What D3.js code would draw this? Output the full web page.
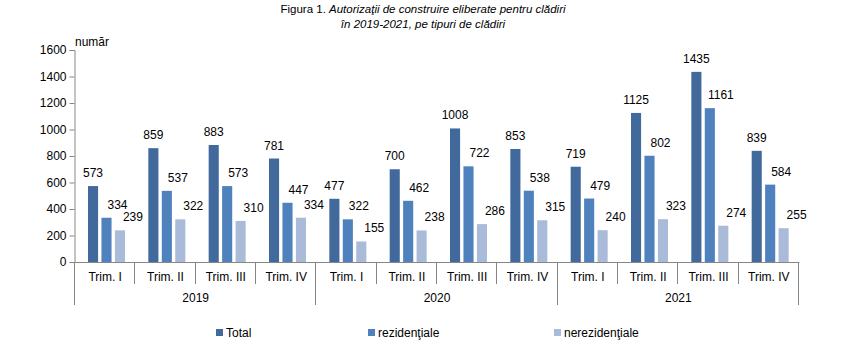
<!DOCTYPE html>
<html>
<head>
<meta charset="utf-8">
<script src="https://cdn.jsdelivr.net/npm/d3@7"></script>
<style>
  body { margin: 0; background: #fff; }
  svg text { font-family: "Liberation Sans", Arial, sans-serif; fill: #000; }
</style>
</head>
<body>
<svg id="chart" width="849" height="347"></svg>
<script>
const years = ['2019', '2020', '2021'];
const quarters = ['Trim. I', 'Trim. II', 'Trim. III', 'Trim. IV'];
const seriesNames = ['Total', 'rezidenţiale', 'nerezidenţiale'];
const total = [573, 859, 883, 781, 477, 700, 1008, 853, 719, 1125, 1435, 839];
const rezidentiale = [334, 537, 573, 447, 322, 462, 722, 538, 479, 802, 1161, 584];
const nerezidentiale = [239, 322, 310, 334, 155, 238, 286, 315, 240, 323, 274, 255];
const yTicks = [0, 200, 400, 600, 800, 1000, 1200, 1400, 1600];

const colors = ['#41699b', '#4f81bd', '#a9bbd8'];
const labelShift = [0, 11, 13];
const axisColor = '#868686';

const svg = d3.select('#chart');

// one slot per quarter of each year
const slots = [];
years.forEach(yr => quarters.forEach(q => slots.push({ year: yr, quarter: q })));
slots.forEach((s, i) => { s.values = [total[i], rezidentiale[i], nerezidentiale[i]]; });

const x0 = d3.scaleBand().domain(d3.range(slots.length)).range([75, 799]);
const x1 = d3.scaleBand().domain(d3.range(3)).range([13, 50]).paddingInner(0.25);
const y = d3.scaleLinear().domain([0, 1600]).range([262, 50]);

// title
const title = svg.append('text').attr('x', 423).attr('y', 13).attr('text-anchor', 'middle')
  .style('font-size', '11.5px');
title.append('tspan').text('Figura 1. ');
title.append('tspan').style('font-style', 'italic').text('Autorizaţii de construire eliberate pentru clădiri');
svg.append('text').attr('x', 423).attr('y', 28).attr('text-anchor', 'middle')
  .style('font-size', '11.5px').style('font-style', 'italic')
  .text('în 2019-2021, pe tipuri de clădiri');

svg.append('text').attr('x', 75).attr('y', 46).style('font-size', '12px').text('număr');

// y axis
const yAxis = svg.append('g').attr('transform', 'translate(74.5,0)')
  .call(d3.axisLeft(y).tickValues(yTicks).tickSize(5).tickPadding(3).tickFormat(d3.format('d')));
yAxis.select('.domain').attr('stroke', axisColor);
yAxis.selectAll('.tick line').attr('stroke', axisColor);
yAxis.selectAll('.tick text').style('font-size', '12px').style('font-family', '"Liberation Sans", Arial, sans-serif');

// bars
const groups = svg.selectAll('.slot').data(slots).enter().append('g')
  .attr('class', 'slot')
  .attr('transform', (d, i) => `translate(${x0(i)},0)`);

groups.selectAll('rect').data(d => d.values).enter().append('rect')
  .attr('x', (v, j) => x1(j))
  .attr('y', v => y(v))
  .attr('width', x1.bandwidth())
  .attr('height', v => y(0) - y(v))
  .attr('fill', (v, j) => colors[j]);

groups.selectAll('.val').data(d => d.values).enter().append('text')
  .attr('class', 'val')
  .attr('x', (v, j) => x1(j) + x1.bandwidth() / 2 + labelShift[j])
  .attr('y', v => y(v) - 9)
  .attr('text-anchor', 'middle')
  .style('font-size', '12px')
  .text(v => v);

// category axis
const base = y(0) + 0.5;
svg.append('line').attr('x1', 74.5).attr('x2', 799.5).attr('y1', base).attr('y2', base).attr('stroke', axisColor);
d3.range(slots.length + 1).forEach(i => {
  const xp = Math.round(i < slots.length ? x0(i) : x0.range()[1]) - 0.5;
  const longTick = i % quarters.length === 0;
  svg.append('line').attr('x1', xp).attr('x2', xp).attr('y1', base)
    .attr('y2', longTick ? 305 : 284).attr('stroke', axisColor);
});
svg.selectAll('.qlab').data(slots).enter().append('text')
  .attr('x', (d, i) => x0(i) + x0.bandwidth() / 2)
  .attr('y', 281)
  .attr('text-anchor', 'middle')
  .style('font-size', '12px')
  .text(d => d.quarter);
svg.selectAll('.ylab').data(years).enter().append('text')
  .attr('x', (d, i) => x0(i * 4) + x0.bandwidth() * 2)
  .attr('y', 302)
  .attr('text-anchor', 'middle')
  .style('font-size', '12px')
  .text(d => d);

// legend
const legendX = [216, 368, 554];
const legend = svg.selectAll('.leg').data(seriesNames).enter().append('g')
  .attr('transform', (d, i) => `translate(${legendX[i]},329)`);
legend.append('rect').attr('width', 7).attr('height', 7).attr('fill', (d, i) => colors[i]);
legend.append('text').attr('x', 10).attr('y', 7.5).style('font-size', '12px').text(d => d);
</script>
</body>
</html>
